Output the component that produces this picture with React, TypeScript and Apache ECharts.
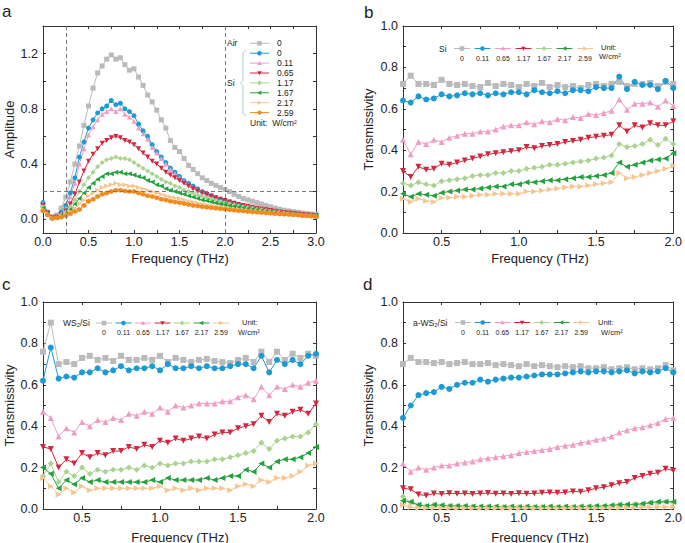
import React, { useEffect, useRef } from "react";
import * as echarts from "echarts";

const FONT = "'Liberation Sans', Arial, Helvetica, sans-serif";

// ---------- sampling grids ----------
const freqA = [
  0, 0.05, 0.1, 0.15, 0.2, 0.25, 0.3, 0.35, 0.4, 0.45,
  0.5, 0.55, 0.6, 0.65, 0.7, 0.75, 0.8, 0.85, 0.9, 0.95,
  1.0, 1.05, 1.1, 1.15, 1.2, 1.25, 1.3, 1.35, 1.4, 1.45,
  1.5, 1.55, 1.6, 1.65, 1.7, 1.75, 1.8, 1.85, 1.9, 1.95,
  2.0, 2.05, 2.1, 2.15, 2.2, 2.25, 2.3, 2.35, 2.4, 2.45,
  2.5, 2.55, 2.6, 2.65, 2.7, 2.75, 2.8, 2.85, 2.9, 2.95,
  3.0,
];
const freqT = [
  0.25, 0.3, 0.35, 0.4, 0.45, 0.5, 0.55, 0.6, 0.65, 0.7,
  0.75, 0.8, 0.85, 0.9, 0.95, 1.0, 1.05, 1.1, 1.15, 1.2,
  1.25, 1.3, 1.35, 1.4, 1.45, 1.5, 1.55, 1.6, 1.65, 1.7,
  1.75, 1.8, 1.85, 1.9, 1.95, 2.0,
];

// ---------- panel a : amplitude ----------
const aAir = [
  0.10, 0.05, 0.02, 0.03, 0.08, 0.16, 0.27, 0.40, 0.53, 0.68,
  0.82, 0.95, 1.06, 1.11, 1.16, 1.19, 1.16, 1.17, 1.12, 1.08,
  1.09, 1.03, 0.97, 0.90, 0.85, 0.79, 0.72, 0.66, 0.57, 0.52,
  0.49, 0.44, 0.39, 0.36, 0.33, 0.30, 0.28, 0.26, 0.245, 0.23,
  0.215, 0.20, 0.18, 0.165, 0.15, 0.14, 0.13, 0.12, 0.11, 0.10,
  0.09, 0.08, 0.072, 0.065, 0.06, 0.055, 0.05, 0.045, 0.04, 0.037,
  0.035,
];
const aSi0 = [
  0.12, 0.05, 0.01, 0.02, 0.05, 0.10, 0.19, 0.30, 0.45, 0.56,
  0.66, 0.72, 0.77, 0.80, 0.82, 0.86, 0.83, 0.84, 0.80, 0.78,
  0.75, 0.69, 0.64, 0.60, 0.54, 0.49, 0.45, 0.41, 0.37, 0.34,
  0.31, 0.28, 0.26, 0.24, 0.22, 0.20, 0.185, 0.17, 0.155, 0.145,
  0.135, 0.125, 0.115, 0.105, 0.098, 0.09, 0.083, 0.076, 0.07, 0.065,
  0.06, 0.055, 0.05, 0.046, 0.042, 0.039, 0.035, 0.032, 0.03, 0.027,
  0.025,
];
const aSi011 = [
  0.11, 0.05, 0.01, 0.02, 0.04, 0.08, 0.16, 0.26, 0.40, 0.51,
  0.61, 0.67, 0.72, 0.76, 0.78, 0.80, 0.78, 0.80, 0.76, 0.74,
  0.71, 0.66, 0.62, 0.58, 0.52, 0.48, 0.44, 0.40, 0.36, 0.33,
  0.30, 0.275, 0.25, 0.23, 0.21, 0.195, 0.18, 0.165, 0.15, 0.14,
  0.13, 0.12, 0.11, 0.102, 0.094, 0.087, 0.08, 0.074, 0.068, 0.063,
  0.058, 0.053, 0.049, 0.045, 0.041, 0.038, 0.034, 0.031, 0.029, 0.026,
  0.024,
];
const aSi065 = [
  0.10, 0.045, 0.01, 0.015, 0.03, 0.06, 0.11, 0.18, 0.27, 0.35,
  0.42, 0.47, 0.51, 0.55, 0.57, 0.59, 0.60, 0.59, 0.57, 0.56,
  0.54, 0.51, 0.48, 0.45, 0.42, 0.40, 0.37, 0.34, 0.32, 0.30,
  0.28, 0.26, 0.24, 0.22, 0.205, 0.19, 0.178, 0.166, 0.155, 0.145,
  0.135, 0.125, 0.115, 0.107, 0.10, 0.093, 0.086, 0.08, 0.074, 0.068,
  0.063, 0.058, 0.053, 0.049, 0.045, 0.041, 0.038, 0.034, 0.031, 0.028,
  0.025,
];
const aSi117 = [
  0.09, 0.04, 0.01, 0.01, 0.03, 0.05, 0.09, 0.14, 0.20, 0.25,
  0.30, 0.34, 0.38, 0.41, 0.43, 0.44, 0.45, 0.44, 0.44, 0.43,
  0.41, 0.39, 0.37, 0.35, 0.33, 0.31, 0.29, 0.27, 0.26, 0.24,
  0.23, 0.21, 0.20, 0.19, 0.175, 0.165, 0.155, 0.145, 0.135, 0.127,
  0.12, 0.112, 0.105, 0.098, 0.091, 0.085, 0.079, 0.073, 0.068, 0.063,
  0.058, 0.054, 0.05, 0.046, 0.042, 0.039, 0.036, 0.033, 0.03, 0.027,
  0.024,
];
const aSi167 = [
  0.08, 0.04, 0.01, 0.01, 0.025, 0.04, 0.07, 0.11, 0.15, 0.19,
  0.23, 0.26, 0.29, 0.31, 0.33, 0.33, 0.34, 0.34, 0.33, 0.33,
  0.32, 0.31, 0.30, 0.28, 0.27, 0.25, 0.24, 0.22, 0.21, 0.20,
  0.19, 0.18, 0.17, 0.16, 0.15, 0.14, 0.133, 0.125, 0.118, 0.11,
  0.104, 0.098, 0.092, 0.086, 0.081, 0.076, 0.071, 0.066, 0.062, 0.058,
  0.054, 0.05, 0.046, 0.043, 0.04, 0.037, 0.034, 0.031, 0.028, 0.025,
  0.022,
];
const aSi217 = [
  0.07, 0.04, 0.01, 0.01, 0.02, 0.035, 0.055, 0.08, 0.11, 0.14,
  0.17, 0.19, 0.21, 0.23, 0.24, 0.25, 0.26, 0.25, 0.25, 0.24,
  0.24, 0.23, 0.22, 0.21, 0.20, 0.19, 0.18, 0.17, 0.16, 0.155,
  0.15, 0.14, 0.13, 0.125, 0.118, 0.11, 0.105, 0.10, 0.094, 0.089,
  0.085, 0.08, 0.076, 0.072, 0.068, 0.064, 0.06, 0.057, 0.054, 0.05,
  0.047, 0.044, 0.041, 0.038, 0.035, 0.033, 0.03, 0.028, 0.025, 0.023,
  0.02,
];
const aSi259 = [
  0.06, 0.03, 0.005, 0.01, 0.015, 0.025, 0.04, 0.055, 0.07, 0.10,
  0.13, 0.145, 0.165, 0.18, 0.19, 0.20, 0.21, 0.21, 0.205, 0.20,
  0.20, 0.19, 0.18, 0.17, 0.165, 0.155, 0.145, 0.14, 0.13, 0.125,
  0.12, 0.113, 0.107, 0.10, 0.096, 0.091, 0.087, 0.083, 0.079, 0.075,
  0.072, 0.068, 0.065, 0.062, 0.059, 0.056, 0.053, 0.05, 0.048, 0.045,
  0.043, 0.04, 0.038, 0.036, 0.034, 0.032, 0.03, 0.027, 0.025, 0.022,
  0.02,
];

// ---------- panel b : Si transmissivity ----------
const bP0 = [
  0.72, 0.76, 0.72, 0.72, 0.715, 0.74, 0.72, 0.715, 0.72, 0.71,
  0.705, 0.725, 0.71, 0.72, 0.715, 0.705, 0.72, 0.71, 0.725, 0.705,
  0.715, 0.705, 0.71, 0.70, 0.715, 0.72, 0.71, 0.72, 0.73, 0.71,
  0.72, 0.72, 0.725, 0.71, 0.73, 0.72,
];
const bP011 = [
  0.64, 0.63, 0.66, 0.645, 0.65, 0.67, 0.66, 0.665, 0.675, 0.67,
  0.675, 0.665, 0.675, 0.67, 0.68, 0.68, 0.67, 0.69, 0.68, 0.675,
  0.685, 0.675, 0.69, 0.69, 0.685, 0.705, 0.70, 0.70, 0.755, 0.695,
  0.73, 0.715, 0.715, 0.695, 0.735, 0.70,
];
const bP065 = [
  0.45, 0.38, 0.44, 0.43, 0.45, 0.44, 0.46, 0.47, 0.48, 0.48,
  0.49, 0.49, 0.50, 0.515, 0.52, 0.52, 0.535, 0.525, 0.54, 0.535,
  0.55, 0.545, 0.56, 0.555, 0.575, 0.57, 0.58, 0.59, 0.645, 0.595,
  0.625, 0.625, 0.63, 0.61, 0.64, 0.615,
];
const bP117 = [
  0.30, 0.27, 0.32, 0.305, 0.31, 0.335, 0.33, 0.34, 0.35, 0.36,
  0.37, 0.38, 0.385, 0.39, 0.395, 0.40, 0.415, 0.41, 0.42, 0.425,
  0.43, 0.44, 0.445, 0.45, 0.46, 0.465, 0.47, 0.475, 0.52, 0.49,
  0.52, 0.51, 0.53, 0.52, 0.52, 0.54,
];
const bP167 = [
  0.24, 0.23, 0.245, 0.235, 0.23, 0.25, 0.255, 0.26, 0.265, 0.275,
  0.28, 0.28, 0.29, 0.29, 0.30, 0.30, 0.31, 0.315, 0.32, 0.33,
  0.33, 0.335, 0.34, 0.345, 0.35, 0.36, 0.365, 0.375, 0.43, 0.415,
  0.42, 0.43, 0.45, 0.425, 0.455, 0.43,
];
const bP217 = [
  0.19, 0.175, 0.19, 0.185, 0.18, 0.195, 0.20, 0.205, 0.21, 0.21,
  0.215, 0.22, 0.225, 0.225, 0.235, 0.235, 0.245, 0.245, 0.25, 0.255,
  0.255, 0.26, 0.265, 0.27, 0.27, 0.275, 0.28, 0.29, 0.34, 0.32,
  0.33, 0.34, 0.35, 0.355, 0.36, 0.385,
];
const bP259 = [
  0.165, 0.15, 0.165, 0.155, 0.15, 0.17, 0.17, 0.175, 0.175, 0.18,
  0.185, 0.185, 0.19, 0.19, 0.19, 0.19, 0.20, 0.20, 0.205, 0.21,
  0.215, 0.22, 0.225, 0.225, 0.23, 0.235, 0.24, 0.245, 0.29, 0.265,
  0.27, 0.28, 0.29, 0.30, 0.31, 0.325,
];

// ---------- panel c : WS2/Si transmissivity ----------
const cP0 = [
  0.76, 0.90, 0.70, 0.71, 0.70, 0.73, 0.74, 0.72, 0.73, 0.715,
  0.74, 0.72, 0.72, 0.73, 0.72, 0.74, 0.71, 0.73, 0.72, 0.71,
  0.72, 0.725, 0.715, 0.71, 0.705, 0.72, 0.73, 0.71, 0.76, 0.71,
  0.76, 0.72, 0.75, 0.73, 0.75, 0.74,
];
const cP011 = [
  0.62, 0.78, 0.63, 0.64, 0.635, 0.66, 0.66, 0.68, 0.66, 0.67,
  0.69, 0.67, 0.68, 0.68, 0.69, 0.67, 0.70, 0.68, 0.68, 0.69,
  0.68, 0.69, 0.68, 0.68, 0.69, 0.70, 0.70, 0.68, 0.74, 0.66,
  0.72, 0.70, 0.72, 0.70, 0.74, 0.75,
];
const cP065 = [
  0.47, 0.44, 0.35, 0.39, 0.37, 0.42, 0.40, 0.43, 0.42, 0.44,
  0.43, 0.46, 0.45, 0.47, 0.46, 0.49, 0.47, 0.50, 0.49, 0.50,
  0.51, 0.51, 0.51, 0.52, 0.52, 0.54, 0.55, 0.53, 0.59, 0.55,
  0.59, 0.58, 0.60, 0.59, 0.61, 0.62,
];
const cP117 = [
  0.30, 0.29, 0.20, 0.24, 0.22, 0.27, 0.25, 0.27, 0.26, 0.28,
  0.28, 0.30, 0.29, 0.31, 0.30, 0.33, 0.32, 0.34, 0.33, 0.34,
  0.35, 0.34, 0.36, 0.37, 0.37, 0.39, 0.40, 0.41, 0.45, 0.42,
  0.46, 0.45, 0.47, 0.48, 0.46, 0.51,
];
const cP167 = [
  0.16, 0.22, 0.13, 0.18, 0.16, 0.20, 0.17, 0.19, 0.18, 0.19,
  0.19, 0.20, 0.19, 0.21, 0.20, 0.22, 0.21, 0.22, 0.22, 0.23,
  0.23, 0.23, 0.24, 0.24, 0.25, 0.26, 0.27, 0.28, 0.32, 0.29,
  0.33, 0.34, 0.35, 0.35, 0.37, 0.41,
];
const cP217 = [
  0.20, 0.17, 0.10, 0.14, 0.12, 0.15, 0.13, 0.14, 0.13, 0.13,
  0.13, 0.13, 0.13, 0.13, 0.14, 0.13, 0.15, 0.14, 0.14, 0.14,
  0.14, 0.15, 0.14, 0.15, 0.16, 0.16, 0.19, 0.18, 0.22, 0.20,
  0.23, 0.24, 0.24, 0.25, 0.27, 0.30,
];
const cP259 = [
  0.15, 0.11, 0.07, 0.10, 0.08, 0.11, 0.09, 0.10, 0.10, 0.10,
  0.10, 0.10, 0.10, 0.10, 0.10, 0.11, 0.09, 0.10, 0.09, 0.10,
  0.09, 0.10, 0.10, 0.10, 0.09, 0.11, 0.12, 0.11, 0.14, 0.13,
  0.15, 0.15, 0.16, 0.18, 0.21, 0.22,
];

// ---------- panel d : a-WS2/Si transmissivity ----------
const dP0 = [
  0.70, 0.73, 0.71, 0.71, 0.705, 0.71, 0.70, 0.705, 0.71, 0.70,
  0.70, 0.705, 0.695, 0.70, 0.695, 0.69, 0.70, 0.69, 0.695, 0.69,
  0.685, 0.69, 0.685, 0.69, 0.68, 0.68, 0.685, 0.675, 0.68, 0.685,
  0.675, 0.68, 0.675, 0.68, 0.695, 0.67,
];
const dP011 = [
  0.44, 0.50, 0.55, 0.56, 0.565, 0.59, 0.58, 0.60, 0.61, 0.61,
  0.625, 0.615, 0.625, 0.63, 0.635, 0.635, 0.64, 0.645, 0.65, 0.65,
  0.65, 0.655, 0.66, 0.665, 0.66, 0.665, 0.665, 0.66, 0.665, 0.67,
  0.655, 0.665, 0.66, 0.665, 0.68, 0.66,
];
const dP065 = [
  0.22, 0.18, 0.20, 0.19, 0.20, 0.21, 0.21, 0.22, 0.225, 0.23,
  0.24, 0.245, 0.25, 0.255, 0.26, 0.27, 0.275, 0.28, 0.285, 0.29,
  0.30, 0.305, 0.31, 0.32, 0.325, 0.335, 0.34, 0.35, 0.37, 0.38,
  0.39, 0.395, 0.405, 0.415, 0.435, 0.44,
];
const dP117 = [
  0.10, 0.095, 0.07, 0.065, 0.075, 0.072, 0.076, 0.074, 0.075, 0.073,
  0.075, 0.077, 0.074, 0.075, 0.073, 0.076, 0.074, 0.075, 0.078, 0.08,
  0.078, 0.08, 0.085, 0.083, 0.09, 0.10, 0.105, 0.115, 0.125, 0.13,
  0.15, 0.16, 0.17, 0.175, 0.195, 0.185,
];
const dP167 = [
  0.06, 0.03, 0.02, 0.015, 0.02, 0.015, 0.015, 0.015, 0.012, 0.012,
  0.01, 0.01, 0.01, 0.01, 0.01, 0.01, 0.01, 0.01, 0.01, 0.01,
  0.01, 0.01, 0.01, 0.01, 0.01, 0.012, 0.012, 0.015, 0.02, 0.02,
  0.025, 0.025, 0.03, 0.03, 0.035, 0.03,
];
const dP217 = [
  0.04, 0.035, 0.02, 0.015, 0.02, 0.018, 0.015, 0.015, 0.015, 0.012,
  0.012, 0.012, 0.012, 0.01, 0.012, 0.01, 0.012, 0.01, 0.01, 0.012,
  0.01, 0.012, 0.01, 0.012, 0.012, 0.015, 0.015, 0.018, 0.02, 0.022,
  0.02, 0.025, 0.03, 0.035, 0.035, 0.035,
];
const dP259 = [
  0.02, 0.01, 0.005, 0.005, 0.006, 0.005, 0.005, 0.004, 0.005, 0.004,
  0.004, 0.004, 0.005, 0.004, 0.004, 0.004, 0.005, 0.004, 0.004, 0.004,
  0.004, 0.004, 0.005, 0.004, 0.004, 0.005, 0.005, 0.006, 0.006, 0.007,
  0.007, 0.008, 0.008, 0.01, 0.01, 0.01,
];

// ---------- labels & ticks ----------
const legendA = ["0", "0", "0.11", "0.65", "1.17", "1.67", "2.17", "2.59"];
const legendT = ["0", "0.11", "0.65", "1.17", "1.67", "2.17", "2.59"];
const xLabelsA = [0, 0.5, 1.0, 1.5, 2.0, 2.5, 3.0];
const xTicksA = [0, 0.25, 0.5, 0.75, 1.0, 1.25, 1.5, 1.75, 2.0, 2.25, 2.5, 2.75, 3.0];
const yLabelsA = [0, 0.4, 0.8, 1.2];
const yTicksA = [0, 0.2, 0.4, 0.6, 0.8, 1.0, 1.2];
const xLabelsT = [0.5, 1.0, 1.5, 2.0];
const xTicksT = [0.5, 0.75, 1.0, 1.25, 1.5, 1.75, 2.0];
const yLabelsT = [0, 0.2, 0.4, 0.6, 0.8, 1.0];
const yTicksT = [0, 0.1, 0.2, 0.3, 0.4, 0.5, 0.6, 0.7, 0.8, 0.9, 1.0];

// ---------- styles ----------
const C_GRAY = "#bababa";
const C_BLUE = "#1b9ad6";
const C_PINK = "#ef9dc5";
const C_RED = "#d2283f";
const C_LGREEN = "#a9d38e";
const C_GREEN = "#24a03c";
const C_LORANGE = "#f7c590";
const C_ORANGE = "#f28a1c";
const AXIS = "#333333";
const TXT = "#222222";

const KINDS_A = ["rect", "circle", "up", "down", "diamond", "left", "right", "hex"];
const COLORS_A = [C_GRAY, C_BLUE, C_PINK, C_RED, C_LGREEN, C_GREEN, C_LORANGE, C_ORANGE];
const KINDS_T = ["rect", "circle", "up", "down", "diamond", "left", "right"];
const COLORS_T = [C_GRAY, C_BLUE, C_PINK, C_RED, C_LGREEN, C_GREEN, C_LORANGE];

const GRIDS = [
  { left: 43, top: 26, width: 273, height: 207 },
  { left: 403, top: 26, width: 271, height: 207 },
  { left: 43, top: 302, width: 273, height: 207 },
  { left: 403, top: 302, width: 271, height: 207 },
];

function echSymbol(k: string): string {
  const m: Record<string, string> = {
    rect: "rect",
    circle: "circle",
    up: "triangle",
    down: "path://M0,0L10,0L5,9Z",
    diamond: "diamond",
    left: "path://M9,0L9,10L0,5Z",
    right: "path://M0,0L0,10L9,5Z",
    hex: "path://M5,0L9.33,2.5L9.33,7.5L5,10L0.67,7.5L0.67,2.5Z",
  };
  return m[k];
}

function marker(k: string, cx: number, cy: number, r: number, color: string): any {
  const style = { fill: color };
  if (k === "rect") return { type: "rect", shape: { x: cx - r, y: cy - r, width: 2 * r, height: 2 * r }, style };
  if (k === "circle") return { type: "circle", shape: { cx, cy, r }, style };
  let pts: number[][] = [];
  if (k === "up") pts = [[cx, cy - r], [cx + r, cy + r * 0.8], [cx - r, cy + r * 0.8]];
  if (k === "down") pts = [[cx - r, cy - r * 0.8], [cx + r, cy - r * 0.8], [cx, cy + r]];
  if (k === "diamond") pts = [[cx, cy - r * 1.1], [cx + r, cy], [cx, cy + r * 1.1], [cx - r, cy]];
  if (k === "left") pts = [[cx + r * 0.8, cy - r], [cx + r * 0.8, cy + r], [cx - r, cy]];
  if (k === "right") pts = [[cx - r * 0.8, cy - r], [cx - r * 0.8, cy + r], [cx + r, cy]];
  if (k === "hex") {
    for (let i = 0; i < 6; i++) {
      const a = Math.PI / 6 + (i * Math.PI) / 3;
      pts.push([cx + r * Math.cos(a), cy + r * Math.sin(a)]);
    }
  }
  return { type: "polygon", shape: { points: pts }, style };
}

function txt(x: number, y: number, text: string, size: number, align = "left", rotation = 0): any {
  return {
    type: "text",
    x,
    y,
    rotation,
    style: { text, fill: TXT, fontSize: size, fontFamily: FONT, align, verticalAlign: "middle" },
  };
}

function hLegend(x0: number, pitch: number, y: number, labelY: number): any[] {
  const out: any[] = [];
  KINDS_T.forEach((k, i) => {
    const cx = x0 + i * pitch;
    out.push({ type: "line", shape: { x1: cx - 8, y1: y, x2: cx + 8, y2: y }, style: { stroke: COLORS_T[i], lineWidth: 1 } });
    out.push(marker(k, cx, y, 2.3, COLORS_T[i]));
    out.push(txt(cx, labelY, legendT[i], 7, "center"));
  });
  return out;
}

function axesFor(g: number, xmin: number, xmax: number, xl: number[], xt: number[], ymin: number, ymax: number, yl: number[], yt: number[]) {
  const line = { show: true, onZero: false, lineStyle: { color: AXIS, width: 1 } };
  const tick = (vals: number[]) => ({ show: true, inside: true, length: 3, customValues: vals, lineStyle: { color: AXIS, width: 1 } });
  const label = (vals: number[], margin: number) => ({
    show: true,
    customValues: vals,
    formatter: (v: number) => Number(v).toFixed(1),
    color: TXT,
    fontSize: 12.5,
    fontFamily: FONT,
    margin,
  });
  const xs = [
    { type: "value", gridIndex: g, position: "bottom", min: xmin, max: xmax, axisLine: line, axisTick: tick(xt), axisLabel: label(xl, 2), splitLine: { show: false } },
    { type: "value", gridIndex: g, position: "top", min: xmin, max: xmax, axisLine: line, axisTick: tick(xt), axisLabel: { show: false }, splitLine: { show: false } },
  ];
  const ys = [
    { type: "value", gridIndex: g, position: "left", min: ymin, max: ymax, axisLine: line, axisTick: tick(yt), axisLabel: label(yl, 5), splitLine: { show: false } },
    { type: "value", gridIndex: g, position: "right", min: ymin, max: ymax, axisLine: line, axisTick: tick(yt), axisLabel: { show: false }, splitLine: { show: false } },
  ];
  return { xs, ys };
}

function lineSeries(g: number, name: string, xs: number[], ys: number[], color: string, kind: string, size: number, extra: any = {}) {
  return {
    type: "line",
    name,
    xAxisIndex: 2 * g,
    yAxisIndex: 2 * g,
    data: xs.map((x, i) => [x, ys[i]]),
    symbol: echSymbol(kind),
    symbolSize: size,
    showAllSymbol: true,
    lineStyle: { color, width: 1 },
    itemStyle: { color },
    ...extra,
  };
}

export default function App() {
  const ref = useRef<HTMLDivElement>(null);
  useEffect(() => {
    document.body.style.margin = "0";
    if (!ref.current) return;
    const chart = echarts.init(ref.current, undefined, { renderer: "svg" });

    const A = axesFor(0, 0, 3, xLabelsA, xTicksA, -0.1, 1.4, yLabelsA, yTicksA);
    const B = axesFor(1, 0.25, 2.0, xLabelsT, xTicksT, 0, 1, yLabelsT, yTicksT);
    const Cc = axesFor(2, 0.25, 2.0, xLabelsT, xTicksT, 0, 1, yLabelsT, yTicksT);
    const D = axesFor(3, 0.25, 2.0, xLabelsT, xTicksT, 0, 1, yLabelsT, yTicksT);

    const aSets = [aAir, aSi0, aSi011, aSi065, aSi117, aSi167, aSi217, aSi259];
    const bSets = [bP0, bP011, bP065, bP117, bP167, bP217, bP259];
    const cSets = [cP0, cP011, cP065, cP117, cP167, cP217, cP259];
    const dSets = [dP0, dP011, dP065, dP117, dP167, dP217, dP259];

    const series: any[] = [];
    aSets.forEach((ys, i) => {
      const extra =
        i === 0
          ? {
              markLine: {
                silent: true,
                symbol: "none",
                label: { show: false },
                lineStyle: { type: [4, 3], color: "#777777", width: 1 },
                data: [{ xAxis: 0.25 }, { xAxis: 2.0 }, { yAxis: 0.2 }],
              },
            }
          : {};
      series.push(lineSeries(0, "a-" + i, freqA, ys, COLORS_A[i], KINDS_A[i], 5, extra));
    });
    bSets.forEach((ys, i) => series.push(lineSeries(1, "b-" + i, freqT, ys, COLORS_T[i], KINDS_T[i], 6)));
    cSets.forEach((ys, i) => series.push(lineSeries(2, "c-" + i, freqT, ys, COLORS_T[i], KINDS_T[i], 6)));
    dSets.forEach((ys, i) => series.push(lineSeries(3, "d-" + i, freqT, ys, COLORS_T[i], KINDS_T[i], 6)));

    const graphics: any[] = [];
    // panel letters
    graphics.push(txt(2, 11, "a", 17));
    graphics.push(txt(364, 12, "b", 17));
    graphics.push(txt(2, 284, "c", 17));
    graphics.push(txt(363, 284, "d", 17));
    // axis titles
    graphics.push(txt(180, 258, "Frequency (THz)", 13, "center"));
    graphics.push(txt(540, 258, "Frequency (THz)", 13, "center"));
    graphics.push(txt(180, 537, "Frequency (THz)", 13, "center"));
    graphics.push(txt(540, 537, "Frequency (THz)", 13, "center"));
    graphics.push(txt(9.5, 129.5, "Amplitude", 13, "center", Math.PI / 2));
    graphics.push(txt(368, 129.5, "Transmissivity", 13, "center", Math.PI / 2));
    graphics.push(txt(9.5, 405.5, "Transmissivity", 13, "center", Math.PI / 2));
    graphics.push(txt(368, 405.5, "Transmissivity", 13, "center", Math.PI / 2));

    // panel a legend
    const rowY0 = 43.3;
    const rowStep = 9.9;
    KINDS_A.forEach((k, i) => {
      const y = rowY0 + i * rowStep;
      graphics.push({ type: "line", shape: { x1: 250, y1: y, x2: 269, y2: y }, style: { stroke: COLORS_A[i], lineWidth: 1 } });
      graphics.push(marker(k, 259.5, y, 2.3, COLORS_A[i]));
      graphics.push(txt(277, y, legendA[i], 8.5));
    });
    graphics.push(txt(227, rowY0, "Air", 8.5));
    graphics.push(txt(227, 83, "Si", 8.5));
    graphics.push({
      type: "polyline",
      shape: { points: [[246, 50], [243, 52.5], [243, 80.5], [240.5, 83], [243, 85.5], [243, 113.5], [246, 116]] },
      style: { stroke: "#9fcaca", lineWidth: 0.9, fill: "none" },
    });
    graphics.push(txt(250, 123, "Unit:  W/cm²", 8.5));

    // panel b legend
    graphics.push(txt(439, 48.5, "Si", 8.5));
    graphics.push(...hLegend(462, 20.5, 48.5, 58));
    graphics.push(txt(601, 47, "Unit:", 7.5));
    graphics.push(txt(599, 56.5, "W/cm²", 7.5));

    // panel c legend
    graphics.push(txt(63, 323, "WS₂/Si", 8.5));
    graphics.push(...hLegend(104, 19.5, 323, 332.5));
    graphics.push(txt(242, 322, "Unit:", 7.5));
    graphics.push(txt(238, 332, "W/cm²", 7.5));

    // panel d legend
    graphics.push(txt(413, 322.5, "a-WS₂/Si", 8.5));
    graphics.push(...hLegend(463, 19.7, 322.5, 332.5));
    graphics.push(txt(598, 322, "Unit:", 7.5));
    graphics.push(txt(601, 332, "W/cm²", 7.5));

    chart.setOption({
      animation: false,
      backgroundColor: "#ffffff",
      textStyle: { fontFamily: FONT },
      grid: GRIDS.map((g) => ({ ...g, containLabel: false })),
      xAxis: [...A.xs, ...B.xs, ...Cc.xs, ...D.xs],
      yAxis: [...A.ys, ...B.ys, ...Cc.ys, ...D.ys],
      series,
      graphic: graphics,
    });
    return () => chart.dispose();
  }, []);
  return <div ref={ref} style={{ width: 685, height: 543 }} />;
}
